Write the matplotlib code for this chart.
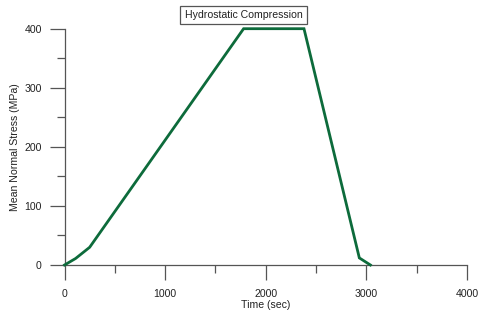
import matplotlib
matplotlib.use("Agg")
import matplotlib.pyplot as plt
from matplotlib.ticker import MultipleLocator

time_s = [0, 110, 250, 1780, 2380, 2930, 3040]
stress_mpa = [0, 11, 30, 400, 400, 12, 0]

plt.rcParams['font.family'] = ['Liberation Sans', 'DejaVu Sans']
fig = plt.figure(figsize=(4.84, 3.13), dpi=100)
ax = fig.add_axes([64.5/484, 1-265/313, (467-64.5)/484, (265-28.7)/313])

spine_c = '#555555'
ax.plot(time_s, stress_mpa, color='#0d6b3b', lw=2.0, clip_on=False, zorder=3,
        solid_joinstyle='miter')
ax.set_xlim(0, 4000)
ax.set_ylim(0, 400)
ax.xaxis.set_major_locator(MultipleLocator(1000))
ax.xaxis.set_minor_locator(MultipleLocator(500))
ax.yaxis.set_major_locator(MultipleLocator(100))
ax.yaxis.set_minor_locator(MultipleLocator(50))
for s in ['top', 'right']:
    ax.spines[s].set_visible(False)
for s in ['left', 'bottom']:
    ax.spines[s].set_color(spine_c)
    ax.spines[s].set_linewidth(0.9)
ax.tick_params(which='major', direction='out', length=10.8, width=0.9, color=spine_c,
               labelsize=7.6, labelcolor='#222222')
ax.tick_params(which='minor', direction='out', length=5.8, width=0.9, color=spine_c)
ax.tick_params(axis='y', which='major', pad=5.5)
ax.tick_params(axis='x', which='major', pad=6.5)
ax.set_xlabel('Time (sec)', fontsize=7.6, color='#222222', labelpad=0.5)
ax.set_ylabel('Mean Normal Stress (MPa)', fontsize=7.6, color='#222222', labelpad=3)

fig.text(243.5/484, 1-15/313, 'Hydrostatic Compression', fontsize=7.6, color='#222222',
         ha='center', va='center',
         bbox=dict(boxstyle='square,pad=0.4', fc='white', ec='#555555', lw=0.9))

fig.savefig('out.png', dpi=100)
